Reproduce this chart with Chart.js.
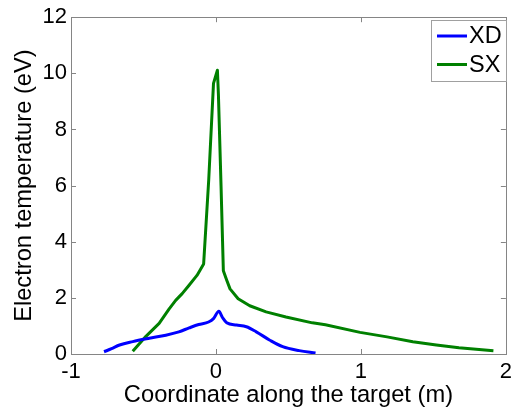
<!DOCTYPE html>
<html>
<head>
<meta charset="utf-8">
<script src="https://cdn.jsdelivr.net/npm/chart.js@4.4.1/dist/chart.umd.min.js"></script>
<style>
html,body{margin:0;padding:0;background:#fff;}
canvas{display:block;}
</style>
</head>
<body>
<canvas id="c" width="517" height="416"></canvas>
<script>
// Data
const xdX = [-0.772, -0.72, -0.665, -0.574, -0.46, -0.346, -0.256, -0.185, -0.119, -0.051, -0.017, 0.020, 0.045, 0.074, 0.142, 0.210, 0.278, 0.369, 0.460, 0.574, 0.687];
const xdY = [0.08, 0.19, 0.32, 0.44, 0.56, 0.67, 0.79, 0.93, 1.05, 1.14, 1.26, 1.52, 1.30, 1.11, 1.03, 0.97, 0.79, 0.50, 0.26, 0.12, 0.04];
const sxX = [-0.574, -0.483, -0.392, -0.324, -0.278, -0.233, -0.187, -0.131, -0.085, -0.050, -0.017, 0.010, 0.017, 0.035, 0.051, 0.075, 0.097, 0.153, 0.233, 0.346, 0.483, 0.665, 0.755, 0.994, 1.180, 1.358, 1.520, 1.676, 1.914];
const sxY = [0.10, 0.63, 1.09, 1.60, 1.91, 2.15, 2.44, 2.80, 3.21, 6.20, 9.64, 10.11, 9.23, 6.00, 2.97, 2.62, 2.32, 1.97, 1.72, 1.50, 1.32, 1.11, 1.04, 0.77, 0.61, 0.44, 0.32, 0.22, 0.12];
const seriesNames = ["XD", "SX"];
const seriesColors = ["#0000ff", "#008000"];
const xTicks = [-1, 0, 1, 2];
const yTicks = [0, 2, 4, 6, 8, 10, 12];
const xTitle = "Coordinate along the target (m)";
const yTitle = "Electron temperature (eV)";

const FONT = "'Liberation Sans', Arial, sans-serif";
const pts = (xs, ys) => xs.map((x, i) => ({x: x, y: ys[i]}));

const frame = {
  id: 'frame',
  afterDraw(chart) {
    const ctx = chart.ctx, a = chart.chartArea;
    const xs = chart.scales.x, ys = chart.scales.y;
    ctx.save();
    ctx.strokeStyle = '#858585';
    ctx.lineWidth = 1;
    ctx.strokeRect(Math.round(a.left) + 0.5, Math.round(a.top) + 0.5, Math.round(a.right - a.left), Math.round(a.bottom - a.top));
    const L = 5;
    ctx.beginPath();
    xs.ticks.forEach(t => {
      const p = Math.round(xs.getPixelForValue(t.value)) + 0.5;
      ctx.moveTo(p, a.bottom); ctx.lineTo(p, a.bottom - L);
      ctx.moveTo(p, a.top); ctx.lineTo(p, a.top + L);
    });
    ys.ticks.forEach(t => {
      const p = Math.round(ys.getPixelForValue(t.value)) + 0.5;
      ctx.moveTo(a.left, p); ctx.lineTo(a.left + L, p);
      ctx.moveTo(a.right, p); ctx.lineTo(a.right - L, p);
    });
    ctx.stroke();
    // legend
    const bx = 431.5, by = 20.5, bw = 75, bh = 61;
    ctx.fillStyle = '#fff';
    ctx.fillRect(bx, by, bw, bh);
    ctx.strokeStyle = '#a0a0a0';
    ctx.lineWidth = 1;
    ctx.strokeRect(bx, by, bw, bh);
    ctx.font = '23.5px ' + FONT;
    ctx.textBaseline = 'middle';
    chart.data.datasets.forEach((ds, i) => {
      const yy = 36 + i * 28.5;
      ctx.strokeStyle = ds.borderColor;
      ctx.lineWidth = 3;
      ctx.beginPath(); ctx.moveTo(437, yy); ctx.lineTo(467, yy); ctx.stroke();
      ctx.fillStyle = '#000';
      ctx.fillText(ds.label, 469, yy + 1);
    });
    ctx.restore();
  }
};

new Chart(document.getElementById('c'), {
  type: 'scatter',
  data: {
    datasets: [
      {label: seriesNames[0], data: pts(xdX, xdY), borderColor: seriesColors[0], backgroundColor: seriesColors[0], showLine: true, borderWidth: 3, pointRadius: 0, tension: 0.25, cubicInterpolationMode: 'monotone', borderJoinStyle: 'round'},
      {label: seriesNames[1], data: pts(sxX, sxY), borderColor: seriesColors[1], backgroundColor: seriesColors[1], showLine: true, borderWidth: 3, pointRadius: 0, tension: 0, borderJoinStyle: 'round'}
    ]
  },
  options: {
    responsive: false,
    animation: false,
    layout: {padding: {top: 15, right: 6, left: 0, bottom: 0}},
    plugins: {legend: {display: false}, tooltip: {enabled: false}},
    scales: {
      x: {
        type: 'linear', min: -1, max: 2,
        afterBuildTicks: s => { s.ticks = xTicks.map(v => ({value: v})); },
        afterFit: s => { s.height = 62; },
        grid: {display: false, drawTicks: false}, border: {display: false},
        ticks: {color: '#000', font: {family: FONT, size: 22}, padding: 5, maxRotation: 0},
        title: {display: true, text: xTitle, color: '#000', font: {family: FONT, size: 23.7}, padding: {top: 0, bottom: 6}}
      },
      y: {
        type: 'linear', min: 0, max: 12,
        afterBuildTicks: s => { s.ticks = yTicks.map(v => ({value: v})); },
        afterFit: s => { s.width = 71; },
        grid: {display: false, drawTicks: false}, border: {display: false},
        ticks: {color: '#000', font: {family: FONT, size: 22}, padding: 4},
        title: {display: true, text: yTitle, color: '#000', font: {family: FONT, size: 23.7}, padding: {top: 10, bottom: 0}}
      }
    }
  },
  plugins: [frame]
});
</script>
</body>
</html>
